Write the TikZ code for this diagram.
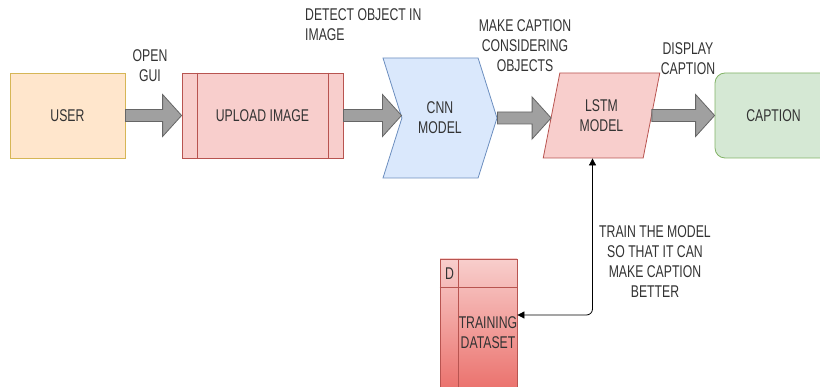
\documentclass[tikz,border=0pt]{standalone}
\usepackage{fontspec}
\setmainfont{Liberation Sans}[FakeStretch=0.72]
\usetikzlibrary{arrows.meta, positioning, calc, shapes.geometric, shapes.symbols}

\definecolor{userfill}{HTML}{FFE6CC}
\definecolor{userdraw}{HTML}{D6B656}
\definecolor{redfill}{HTML}{F8CECC}
\definecolor{reddraw}{HTML}{B85450}
\definecolor{reddeep}{HTML}{EA6B66}
\definecolor{bluefill}{HTML}{DAE8FC}
\definecolor{bluedraw}{HTML}{6C8EBF}
\definecolor{greenfill}{HTML}{D5E8D4}
\definecolor{greendraw}{HTML}{82B366}
\definecolor{arrowfill}{HTML}{A0A0A0}
\definecolor{arrowdraw}{HTML}{666666}
\definecolor{textgray}{HTML}{333333}

% fat gray arrow from one anchor to another
\newcommand{\blockarrow}[2]{%
  \path[flow] let \p1=(#1), \p2=(#2) in
    (\x1,\y1+6pt) -- (\x2-19pt,\y1+6pt) -- (\x2-19pt,\y1+21pt) -- (\x2,\y1)
    -- (\x2-19pt,\y1-21pt) -- (\x2-19pt,\y1-6pt) -- (\x1,\y1-6pt) -- cycle;}

\begin{document}
\begin{tikzpicture}[
    x=1pt, y=-1pt,
    every node/.style={font=\fontsize{17}{20}\selectfont, text=textgray, align=center},
    box/.style={draw, line width=0.8pt, minimum height=85},
    userbox/.style={box, draw=userdraw, fill=userfill, minimum width=115},
    process/.style={box, draw=reddraw, fill=redfill, minimum width=161},
    chevron/.style={signal, signal from=west, signal to=east, signal pointer angle=145,
        draw=bluedraw, fill=bluefill, line width=0.8pt, minimum width=114, minimum height=120, inner sep=0},
    slanted/.style={trapezium, trapezium left angle=75.5, trapezium right angle=104.5,
        trapezium stretches=true, draw=reddraw, fill=redfill, line width=0.8pt,
        minimum width=117, minimum height=85},
    result/.style={box, draw=greendraw, fill=greenfill, minimum width=117, rounded corners=10pt},
    dataset/.style={draw=reddraw, line width=0.8pt, top color=redfill, bottom color=reddeep,
        minimum width=77, minimum height=140},
    remark/.style={inner sep=1pt},
    flow/.style={draw=arrowdraw, fill=arrowfill, line width=0.8pt},
    link/.style={{Triangle[length=7pt,width=7pt]}-{Triangle[length=7pt,width=7pt]},
        line width=0.8pt, rounded corners=6pt}
]
\useasboundingbox (0,0) rectangle (820,387);
\clip (0,0) rectangle (820,387);

% main row
\node[userbox] (user) at (67.5,115.5) {USER};
\node[process] (upload) at (262.5,115.5) {UPLOAD\ IMAGE};
\draw[reddraw, line width=0.8pt] ([xshift=16pt]upload.north west) -- ([xshift=16pt]upload.south west);
\draw[reddraw, line width=0.8pt] ([xshift=-15pt]upload.north east) -- ([xshift=-15pt]upload.south east);
\node[chevron] (cnn) at (440,118) {CNN\\MODEL};
\node[slanted] (lstm) at (601.5,115.5) {LSTM\\MODEL};
\node[result] (caption) at (773.5,115.5) {CAPTION};

% training data
\node[dataset] (data) at (478.5,329) {};
\draw[reddraw, line width=0.8pt] ([yshift=-29pt]data.north west) -- ([yshift=-29pt]data.north east);
\draw[reddraw, line width=0.8pt] ([xshift=19pt]data.north west) -- ([xshift=19pt]data.south west);
\node (dhead) at (449.5,273.5) {D};
\node (datatext) at (488,333) {TRAINING\\DATASET};

% labels
\node[remark] (opengui) at (150,66) {OPEN\\GUI};
\node[remark, anchor=west, align=left] (detect) at (304,25) {DETECT OBJECT IN\\IMAGE};
\node[remark] (makecap) at (525,46) {MAKE CAPTION\\CONSIDERING\\OBJECTS};
\node[remark] (display) at (688,59) {DISPLAY\\CAPTION};
\node[remark] (train) at (655,262) {TRAIN THE MODEL\\SO THAT IT CAN\\MAKE CAPTION\\BETTER};

% arrows
\blockarrow{user.east}{upload.west}
\blockarrow{upload.east}{cnn.west}
\blockarrow{cnn.east}{lstm.west}
\blockarrow{lstm.east}{caption.west}
\draw[link] ([xshift=-9pt]lstm.south) |- ([yshift=14pt]data.east);

\end{tikzpicture}
\end{document}
